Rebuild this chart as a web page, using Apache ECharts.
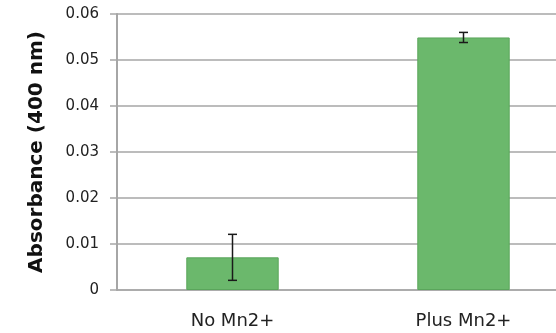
<!DOCTYPE html>
<html><head><meta charset="utf-8">
<script src="https://cdn.jsdelivr.net/npm/echarts@6/dist/echarts.min.js"></script>
<style>html,body{margin:0;padding:0;background:#fff;overflow:hidden;width:556px;height:333px}#c{width:579px;height:333px}</style>
</head><body><div id="c"></div>
<script>
const categories = ['No Mn2+', 'Plus Mn2+'];
const values = [0.0071, 0.0549];
const errors = [0.0050, 0.0011];
const yTicks = {min: 0, max: 0.06, interval: 0.01};

const chart = echarts.init(document.getElementById('c'));
const errData = values.map((v, i) => [i, v - errors[i], v + errors[i]]);
chart.setOption({
  animation: false,
  grid: {left: 117, top: 14, right: 0, bottom: 43, containLabel: false},
  xAxis: {
    type: 'category', data: categories,
    axisLine: {lineStyle: {color: '#a6a6a6', width: 1.5}},
    axisTick: {show: false},
    axisLabel: {color: '#222', fontSize: 18, fontFamily: 'DejaVu Sans', margin: 22}
  },
  yAxis: {
    type: 'value', min: yTicks.min, max: yTicks.max, interval: yTicks.interval,
    name: 'Absorbance (400 nm)', nameLocation: 'middle', nameGap: 70,
    nameTextStyle: {fontSize: 20, fontWeight: 'bold', color: '#111', fontFamily: 'DejaVu Sans'},
    axisLine: {show: true, lineStyle: {color: '#a6a6a6', width: 2}},
    axisTick: {show: true, length: 7, lineStyle: {color: '#a6a6a6', width: 1.5}},
    splitLine: {lineStyle: {color: '#a6a6a6', width: 1.5}},
    axisLabel: {color: '#222', fontSize: 15, fontFamily: 'DejaVu Sans', margin: 18,
      formatter: v => v === 0 ? '0' : v.toFixed(2)}
  },
  series: [{
    type: 'bar', data: values, barWidth: '40%',
    itemStyle: {color: '#6bb86c', borderColor: '#5aa55b', borderWidth: 1}
  }, {
    type: 'custom', data: errData, z: 10,
    renderItem: function (params, api) {
      const x = api.value(0);
      const lo = api.coord([x, api.value(1)]);
      const hi = api.coord([x, api.value(2)]);
      const w = 4.5;
      const st = {stroke: '#1a1a1a', lineWidth: 1.5};
      return {type: 'group', children: [
        {type: 'line', shape: {x1: lo[0], y1: lo[1], x2: hi[0], y2: hi[1]}, style: st},
        {type: 'line', shape: {x1: lo[0]-w, y1: lo[1], x2: lo[0]+w, y2: lo[1]}, style: st},
        {type: 'line', shape: {x1: hi[0]-w, y1: hi[1], x2: hi[0]+w, y2: hi[1]}, style: st}
      ]};
    }
  }]
});
</script></body></html>
